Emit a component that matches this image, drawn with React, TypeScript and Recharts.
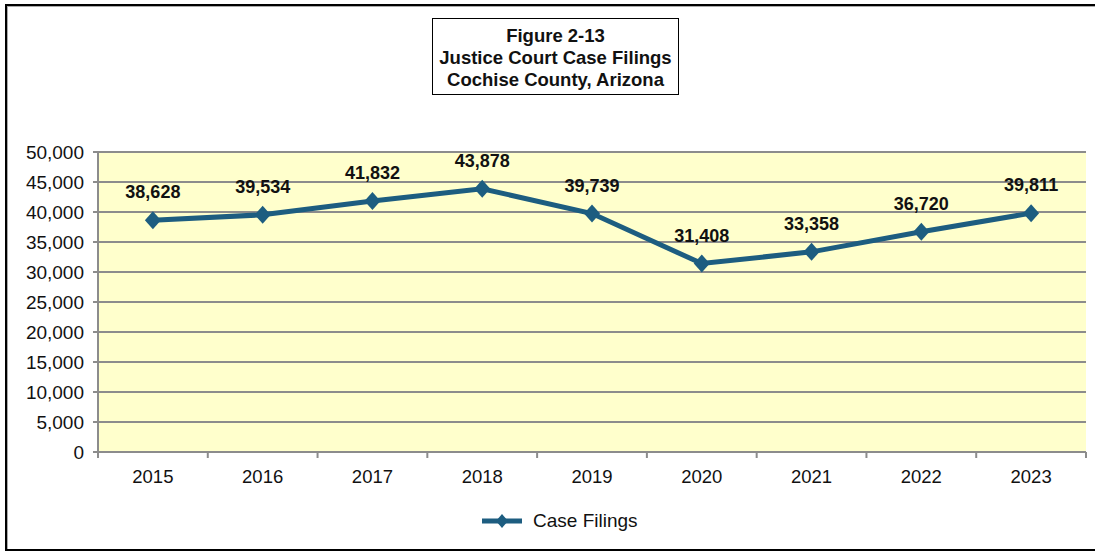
import { LineChart, Line, XAxis, YAxis, CartesianGrid, LabelList } from 'recharts'

const years = ['2015', '2016', '2017', '2018', '2019', '2020', '2021', '2022', '2023']
const caseFilings = [38628, 39534, 41832, 43878, 39739, 31408, 33358, 36720, 39811]
const yTicks = [0, 5000, 10000, 15000, 20000, 25000, 30000, 35000, 40000, 45000, 50000]
const titleLines = ['Figure 2-13', 'Justice Court Case Filings', 'Cochise County, Arizona']
const seriesName = 'Case Filings'

const data = years.map((year, i) => ({ year, filings: caseFilings[i] }))

const LINE_COLOR = '#1d5d80'
const FONT = '"Liberation Sans", Arial, sans-serif'
const W = 1095
const H = 552
const M = { top: 152, right: 9, left: 0, bottom: 60 }
const Y_AXIS_W = 98
const X_AXIS_H = 40
const PLOT_BOTTOM = H - M.bottom - X_AXIS_H
const BAND = (W - M.left - M.right - Y_AXIS_W) / years.length

const fmt = (v: number) => v.toLocaleString('en-US')

const Diamond = (props: any) => {
  const { cx, cy } = props
  if (cx == null || cy == null) return null
  return (
    <polygon
      points={`${cx},${cy - 9} ${cx + 8},${cy} ${cx},${cy + 9} ${cx - 8},${cy}`}
      fill={LINE_COLOR}
    />
  )
}

const YearTick = (props: any) => {
  const { x, payload, index } = props
  const left = x - BAND / 2
  return (
    <g>
      <line x1={left} y1={PLOT_BOTTOM} x2={left} y2={PLOT_BOTTOM + 6} stroke="#8c8c8c" strokeWidth={2} />
      {index === years.length - 1 && (
        <line x1={left + BAND} y1={PLOT_BOTTOM} x2={left + BAND} y2={PLOT_BOTTOM + 6} stroke="#8c8c8c" strokeWidth={2} />
      )}
      <text x={x} y={PLOT_BOTTOM + 31} textAnchor="middle" fontSize={18.5} fill="#111" fontFamily={FONT}>
        {payload.value}
      </text>
    </g>
  )
}

export default function App() {
  return (
    <div
      style={{
        position: 'fixed',
        left: 0,
        top: 0,
        width: W,
        height: H,
        background: '#fff',
        fontFamily: FONT,
        overflow: 'hidden',
      }}
    >
      <div
        style={{
          position: 'absolute',
          left: 5,
          top: 4,
          width: W + 40,
          height: 543,
          border: '2px solid #000',
          boxShadow: 'inset 1px 1px 0 #aaa',
        }}
      />
      <div
        style={{
          position: 'absolute',
          left: 432,
          top: 18,
          width: 247,
          height: 77,
          border: '1px solid #000',
          background: '#fff',
          textAlign: 'center',
          fontWeight: 'bold',
          fontSize: 18.5,
          lineHeight: '22px',
          paddingTop: 6,
          boxSizing: 'border-box',
          color: '#111',
          whiteSpace: 'nowrap',
        }}
      >
        {titleLines.map((t) => (
          <div key={t}>{t}</div>
        ))}
      </div>

      <div style={{ position: 'absolute', left: 0, top: 0 }}>
        <LineChart width={W} height={H} data={data} margin={M}>
          <CartesianGrid vertical={false} stroke="#8c8c8c" strokeWidth={2} fill="#ffffcc" />
          <XAxis
            dataKey="year"
            height={X_AXIS_H}
            padding={{ left: BAND / 2, right: BAND / 2 }}
            stroke="#8c8c8c"
            strokeWidth={2}
            tickLine={false}
            tick={<YearTick />}
            interval={0}
          />
          <YAxis
            width={Y_AXIS_W}
            domain={[0, 50000]}
            ticks={yTicks}
            interval={0}
            stroke="#8c8c8c"
            strokeWidth={2}
            tickSize={5}
            tickMargin={9}
            tickFormatter={fmt}
            tick={{ fontSize: 19, fill: '#111', fontFamily: FONT }}
          />
          <Line
            dataKey="filings"
            name={seriesName}
            stroke={LINE_COLOR}
            strokeWidth={5}
            dot={<Diamond />}
            activeDot={false}
            isAnimationActive={false}
          >
            <LabelList
              dataKey="filings"
              position="top"
              offset={22}
              formatter={(v: any) => fmt(Number(v))}
              style={{ fontSize: 18, fontWeight: 'bold', fill: '#111', fontFamily: FONT }}
            />
          </Line>
        </LineChart>
      </div>

      <div
        style={{
          position: 'absolute',
          left: 480,
          top: 509,
          display: 'flex',
          alignItems: 'center',
          fontSize: 19,
          color: '#111',
        }}
      >
        <svg width={44} height={24}>
          <line x1={2} y1={12} x2={42} y2={12} stroke={LINE_COLOR} strokeWidth={5} />
          <polygon points="22,5 28,12 22,19 16,12" fill={LINE_COLOR} />
        </svg>
        <span style={{ marginLeft: 9 }}>{seriesName}</span>
      </div>
    </div>
  )
}
